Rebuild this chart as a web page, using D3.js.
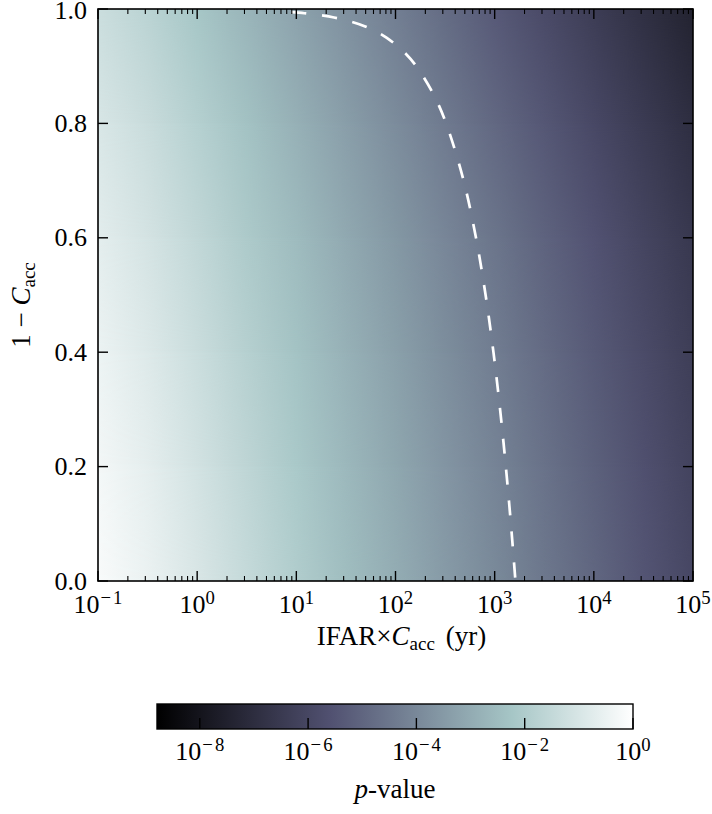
<!DOCTYPE html>
<html>
<head>
<meta charset="utf-8">
<script src="https://cdn.jsdelivr.net/npm/d3@7"></script>
<style>
  html, body { margin: 0; padding: 0; background: #fff; }
  svg { display: block; }
  text { font-family: "Liberation Serif", "DejaVu Serif", serif; fill: #000; }
</style>
</head>
<body>
<svg id="chart" width="712" height="814"></svg>
<script>
// ---------------- data ----------------
// columns of the p-value map: log10 of IFAR x C_acc (yr)
const gridLogX = [-1, -0.5, 0, 0.5, 1, 1.5, 2, 2.5, 3, 3.5, 4, 4.5, 5];
// rows of the p-value map: 1 - C_acc
const gridY = [0, 0.2, 0.4, 0.6, 0.8, 1.0];
// log10(p-value) at each row (outer) and column (inner)
const logPRow00 = [-0.16, -0.50, -0.96, -1.46, -1.96, -2.46, -2.96, -3.46, -3.96, -4.46, -4.96, -5.46, -5.96];
const logPRow02 = [-0.30, -0.66, -1.13, -1.63, -2.13, -2.63, -3.13, -3.63, -4.13, -4.63, -5.13, -5.63, -6.13];
const logPRow04 = [-0.48, -0.85, -1.33, -1.83, -2.33, -2.83, -3.33, -3.83, -4.33, -4.83, -5.33, -5.83, -6.33];
const logPRow06 = [-0.70, -1.08, -1.56, -2.06, -2.56, -3.06, -3.56, -4.06, -4.56, -5.06, -5.56, -6.06, -6.56];
const logPRow08 = [-0.98, -1.36, -1.85, -2.36, -2.87, -3.38, -3.89, -4.40, -4.91, -5.42, -5.93, -6.44, -6.95];
const logPRow10 = [-1.34, -1.72, -2.22, -2.74, -3.26, -3.78, -4.30, -4.82, -5.34, -5.86, -6.38, -6.90, -7.42];
const logPRows = [logPRow00, logPRow02, logPRow04, logPRow06, logPRow08, logPRow10];

// dashed curve
const lineIFARxC = [8.9, 12, 16, 24, 32, 48, 65, 81, 120, 162, 243, 324, 486, 648, 810, 972, 1134, 1296, 1458, 1620];
const lineOneMinusC = [0.9945, 0.9926, 0.9901, 0.9852, 0.9802, 0.9704, 0.96, 0.95, 0.926, 0.90, 0.85, 0.80, 0.70, 0.60, 0.50, 0.40, 0.30, 0.20, 0.10, 0.0];

// ticks
const xTickExps = [-1, 0, 1, 2, 3, 4, 5];
const yTicks = [0.0, 0.2, 0.4, 0.6, 0.8, 1.0];
const cbarTickExps = [-8, -6, -4, -2, 0];
const cbarLogMin = -8.79, cbarLogMax = 0;

// ---------------- layout ----------------
const svg = d3.select("#chart");
const L = 98, R = 693, T = 9, B = 581;
const CBL = 157, CBR = 633, CBT = 704, CBB = 729;

const x = d3.scaleLog().domain([0.1, 1e5]).range([L, R]);
const y = d3.scaleLinear().domain([0, 1]).range([B, T]);
const cbx = d3.scaleLinear().domain([cbarLogMin, cbarLogMax]).range([CBL, CBR]);

// bone colormap (matplotlib) breakpoints
const boneStops = [0, 0.365079, 0.746032, 1];
const boneColors = ["rgb(0,0,0)", "rgb(81,81,113)", "rgb(166,198,198)", "rgb(255,255,255)"];
const bone = d3.scaleLinear().domain(boneStops).range(boneColors).interpolate(d3.interpolateRgb).clamp(true);
const norm = d3.scaleLinear().domain([cbarLogMin, cbarLogMax]).range([0, 1]).clamp(true);
const colorOf = lp => bone(norm(lp));

const defs = svg.append("defs");
defs.append("clipPath").attr("id", "plotclip")
  .append("rect").attr("x", L).attr("y", T).attr("width", R - L).attr("height", B - T);

// horizontal gradients for each row
logPRows.forEach((row, j) => {
  const g = defs.append("linearGradient").attr("id", "row" + j)
    .attr("gradientUnits", "userSpaceOnUse")
    .attr("x1", L).attr("y1", 0).attr("x2", R).attr("y2", 0);
  row.forEach((lp, i) => {
    g.append("stop")
      .attr("offset", (x(Math.pow(10, gridLogX[i])) - L) / (R - L))
      .attr("stop-color", colorOf(lp));
  });
});
// vertical fade mask (bottom transparent -> top opaque)
const vg = defs.append("linearGradient").attr("id", "vfade")
  .attr("x1", 0).attr("y1", 1).attr("x2", 0).attr("y2", 0);
vg.append("stop").attr("offset", 0).attr("stop-color", "#000");
vg.append("stop").attr("offset", 1).attr("stop-color", "#fff");
defs.append("mask").attr("id", "vmask")
  .attr("maskUnits", "objectBoundingBox").attr("maskContentUnits", "objectBoundingBox")
  .append("rect").attr("x", 0).attr("y", 0).attr("width", 1).attr("height", 1).attr("fill", "url(#vfade)");

const field = svg.append("g").attr("clip-path", "url(#plotclip)");
for (let j = 0; j < gridY.length - 1; j++) {
  const yb = y(gridY[j]), yt = y(gridY[j + 1]);
  field.append("rect").attr("x", L).attr("width", R - L)
    .attr("y", yt - 0.5).attr("height", yb - yt + 1).attr("fill", "url(#row" + j + ")");
  field.append("rect").attr("x", L).attr("width", R - L)
    .attr("y", yt - 0.5).attr("height", yb - yt + 1).attr("fill", "url(#row" + (j + 1) + ")")
    .attr("mask", "url(#vmask)");
}

// dashed line
const linePts = lineIFARxC.map((v, i) => ({ x: v, y: lineOneMinusC[i] }));
field.append("path")
  .datum(linePts)
  .attr("d", d3.line().x(d => x(d.x)).y(d => y(d.y)).curve(d3.curveCatmullRom.alpha(0.5)))
  .attr("fill", "none").attr("stroke", "#fff").attr("stroke-width", 2.7)
  .attr("stroke-dasharray", "15,16");

// ---------------- axes ----------------
const ax = svg.append("g").attr("stroke", "#000").attr("stroke-width", 1.4);
const majorLen = 10, minorLen = 5;
const minorX = [];
for (let e = -1; e < 5; e++) for (let m = 2; m <= 9; m++) minorX.push(m * Math.pow(10, e));
xTickExps.forEach(e => {
  const px = x(Math.pow(10, e));
  ax.append("line").attr("x1", px).attr("x2", px).attr("y1", B).attr("y2", B - majorLen);
  ax.append("line").attr("x1", px).attr("x2", px).attr("y1", T).attr("y2", T + majorLen);
});
minorX.forEach(v => {
  const px = x(v);
  ax.append("line").attr("x1", px).attr("x2", px).attr("y1", B).attr("y2", B - minorLen).attr("stroke-width", 1.1);
  ax.append("line").attr("x1", px).attr("x2", px).attr("y1", T).attr("y2", T + minorLen).attr("stroke-width", 1.1);
});
yTicks.forEach(v => {
  const py = y(v);
  ax.append("line").attr("x1", L).attr("x2", L + majorLen).attr("y1", py).attr("y2", py);
  ax.append("line").attr("x1", R).attr("x2", R - majorLen).attr("y1", py).attr("y2", py);
});
svg.append("rect").attr("x", L).attr("y", T).attr("width", R - L).attr("height", B - T)
  .attr("fill", "none").attr("stroke", "#000").attr("stroke-width", 1.6);

// tick labels
function powLabel(g, px, py, exp, size) {
  const t = g.append("text").attr("x", px).attr("y", py).attr("text-anchor", "middle")
    .style("font-size", size + "px");
  t.append("tspan").text("10");
  const sup = t.append("tspan").attr("dy", -0.36 * size).style("font-size", (size * 0.72) + "px");
  if (exp < 0) {
    sup.append("tspan").attr("dx", 1).text("\u2212");
    sup.append("tspan").attr("dx", 2).text(String(Math.abs(exp)));
  } else {
    sup.text(String(exp));
  }
}
xTickExps.forEach(e => powLabel(svg, x(Math.pow(10, e)), 613, e, 26));
yTicks.forEach(v => {
  svg.append("text").attr("x", 87).attr("y", y(v) + (v === 1 ? 9.5 : 8.5)).attr("text-anchor", "end")
    .style("font-size", "26px").text(v.toFixed(1));
});

// axis labels
const xl = svg.append("text").attr("x", (L + R) / 2 + 6).attr("y", 645).attr("text-anchor", "middle")
  .style("font-size", "27px");
xl.append("tspan").text("IFAR\u00d7");
xl.append("tspan").style("font-style", "italic").text("C");
xl.append("tspan").attr("dy", 5).style("font-size", "19px").text("acc");
xl.append("tspan").attr("dy", -5).attr("dx", 4).text(" (yr)");

const yl = svg.append("text").attr("transform", `translate(30,${(T + B) / 2 + 10}) rotate(-90)`)
  .attr("text-anchor", "middle").style("font-size", "27px");
yl.append("tspan").text("1 \u2212 ");
yl.append("tspan").style("font-style", "italic").text("C");
yl.append("tspan").attr("dy", 5).style("font-size", "19px").text("acc");

// ---------------- colorbar ----------------
const cg = defs.append("linearGradient").attr("id", "cbar")
  .attr("gradientUnits", "userSpaceOnUse").attr("x1", CBL).attr("x2", CBR).attr("y1", 0).attr("y2", 0);
boneStops.forEach((s, i) => cg.append("stop").attr("offset", s).attr("stop-color", boneColors[i]));
svg.append("rect").attr("x", CBL).attr("y", CBT).attr("width", CBR - CBL).attr("height", CBB - CBT)
  .attr("fill", "url(#cbar)").attr("stroke", "#000").attr("stroke-width", 1.4);
cbarTickExps.forEach(e => {
  const px = cbx(e);
  svg.append("line").attr("x1", px).attr("x2", px).attr("y1", CBB).attr("y2", CBB - 11)
    .attr("stroke", "#000").attr("stroke-width", 1.4);
  powLabel(svg, px, 760, e, 26);
});
const cl = svg.append("text").attr("x", (CBL + CBR) / 2).attr("y", 798).attr("text-anchor", "middle")
  .style("font-size", "27px");
cl.append("tspan").style("font-style", "italic").text("p");
cl.append("tspan").text("-value");
</script>
</body>
</html>
